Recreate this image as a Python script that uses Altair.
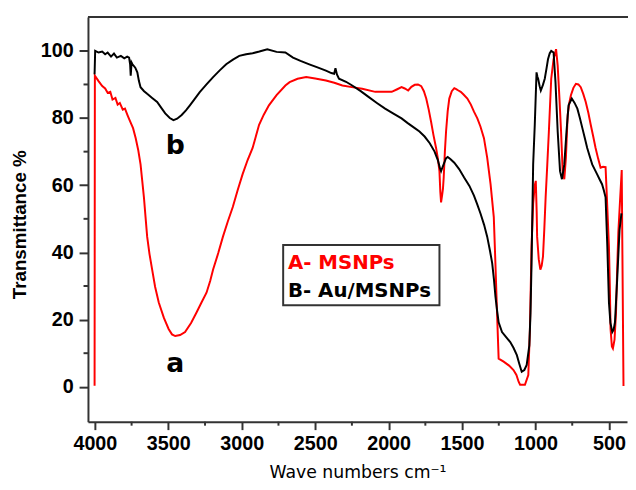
import altair as alt
import pandas as pd

# ---- spectrum A (MSNPs, red) ----
red_wn = [4002, 4000, 3975, 3950, 3930, 3913, 3895, 3880, 3860, 3845, 3830, 3810, 3795, 3778, 3760, 3740,
          3722, 3705, 3689, 3678, 3666, 3655, 3644, 3628, 3610, 3590, 3565, 3530, 3498, 3475, 3453, 3420,
          3386, 3345, 3308, 3275, 3240, 3215, 3195, 3160, 3128, 3095, 3061, 3028, 2994, 2960, 2926, 2882,
          2850, 2815, 2763, 2703, 2674, 2620, 2561, 2500, 2427, 2370, 2315, 2250, 2180, 2091, 2030, 1979,
          1945, 1912, 1890, 1867, 1845, 1822, 1800, 1778, 1760, 1744, 1727, 1711, 1695, 1677, 1665, 1654,
          1648, 1643, 1636, 1630, 1625, 1617, 1609, 1598, 1587, 1570, 1553, 1540, 1525, 1509, 1490, 1464,
          1440, 1419, 1396, 1375, 1351, 1329, 1306, 1284, 1273, 1262, 1251, 1217, 1180, 1150, 1130, 1115,
          1105, 1072, 1049, 1038, 1027, 1016, 1005, 998, 992, 989, 978, 967, 958, 949, 940, 931,
          920, 909, 893, 877, 860, 849, 837, 826, 815, 804, 793, 781, 770, 759, 742, 725,
          708, 692, 675, 658, 640, 624, 607, 591, 574, 557, 540, 523, 516, 508, 500, 494,
          489, 480, 473, 462, 452, 444, 436, 425, 413, 401]
red_t = [0.3, 92.6, 91.0, 89.5, 88.8, 87.5, 87.8, 85.5, 86.0, 84.0, 84.5, 82.5, 82.8, 80.9, 79.0, 77.0,
         74.0, 70.5, 66.2, 61.5, 56.4, 50.5, 44.7, 39.5, 34.9, 29.8, 25.1, 20.5, 17.2, 15.6, 15.1, 15.4,
         16.3, 19.0, 22.1, 25.0, 28.0, 31.5, 34.9, 39.8, 44.7, 49.2, 53.5, 58.5, 63.3, 67.5, 71.1, 78.0,
         81.0, 83.8, 86.8, 89.7, 90.7, 91.7, 92.2, 91.8, 91.2, 90.5, 89.7, 89.2, 88.7, 87.8, 87.8, 87.8,
         88.5, 89.2, 88.8, 88.2, 89.3, 89.9, 90.0, 89.5, 88.0, 85.8, 82.5, 78.9, 75.0, 71.1, 68.0, 64.2,
         58.0, 54.9, 57.0, 59.0, 62.3, 70.0, 76.0, 82.0, 85.8, 88.0, 88.9, 88.6, 88.2, 87.8, 87.0, 85.8,
         84.0, 81.9, 79.9, 77.5, 74.0, 68.2, 60.3, 50.5, 36.8, 22.1, 8.4, 7.5, 6.3, 5.0, 3.5, 1.5,
         0.6, 0.6, 3.5, 17.2, 41.7, 54.5, 60.0, 61.3, 52.0, 44.7, 38.0, 34.9, 36.0, 38.8, 47.0, 56.4,
         66.0, 76.0, 91.7, 97.5, 100.5, 95.6, 85.8, 76.0, 64.2, 61.8, 68.2, 80.9, 84.5, 86.8, 89.0, 90.2,
         90.0, 89.2, 87.2, 84.8, 81.5, 78.0, 74.5, 71.1, 68.0, 65.2, 65.5, 65.4, 58.4, 50.0, 41.7, 30.0,
         17.2, 12.0, 11.4, 14.0, 22.0, 35.0, 46.0, 55.0, 64.5, 0.2]

# ---- spectrum B (Au/MSNPs, black) ----
black_wn = [4002, 3998, 3975, 3950, 3930, 3913, 3890, 3870, 3850, 3823, 3800, 3780, 3767, 3760, 3756, 3750,
            3744, 3725, 3711, 3700, 3689, 3665, 3644, 3610, 3576, 3550, 3521, 3490, 3465, 3440, 3409, 3380,
            3353, 3320, 3286, 3240, 3195, 3150, 3106, 3060, 3017, 2970, 2926, 2880, 2826, 2763, 2703, 2651,
            2600, 2540, 2480, 2427, 2390, 2371, 2362, 2352, 2338, 2290, 2248, 2190, 2137, 2080, 2024, 1970,
            1912, 1870, 1822, 1790, 1755, 1720, 1688, 1665, 1650, 1643, 1632, 1621, 1610, 1598, 1580, 1553,
            1520, 1486, 1450, 1419, 1396, 1374, 1350, 1329, 1310, 1295, 1283, 1273, 1262, 1251, 1228, 1200,
            1172, 1150, 1127, 1110, 1094, 1076, 1060, 1042, 1034, 1027, 1016, 1005, 993, 987, 982, 972,
            964, 950, 937, 925, 915, 903, 893, 877, 864, 849, 833, 820, 804, 789, 775, 753,
            734, 715, 698, 681, 664, 648, 630, 614, 598, 581, 564, 547, 535, 523, 511, 500,
            490, 477, 468, 459, 444, 428, 415]
black_t = [93.0, 100.0, 99.5, 99.8, 99.0, 99.5, 98.3, 99.2, 98.0, 98.5, 97.8, 98.3, 98.0, 96.0, 92.6, 96.5,
           96.0, 95.0, 93.6, 91.0, 89.2, 88.0, 87.2, 86.0, 84.8, 83.2, 81.4, 80.0, 79.4, 79.8, 80.9, 82.3,
           83.8, 85.7, 87.7, 90.0, 92.2, 94.2, 96.0, 97.4, 98.5, 99.0, 99.3, 99.8, 100.5, 99.7, 99.5, 98.0,
           97.0, 96.0, 95.0, 94.1, 93.4, 93.2, 94.8, 93.0, 91.7, 90.8, 89.7, 88.0, 86.3, 84.5, 82.8, 81.4,
           79.9, 78.5, 77.0, 76.0, 74.5, 72.5, 70.1, 67.5, 65.0, 64.2, 65.5, 66.7, 68.0, 68.4, 67.8, 66.7,
           64.8, 62.3, 59.8, 56.9, 54.2, 51.5, 48.2, 44.7, 40.5, 36.8, 32.0, 27.0, 22.8, 19.2, 16.3, 14.8,
           13.3, 11.6, 9.4, 6.8, 4.5, 5.0, 6.5, 12.3, 22.0, 36.8, 66.2, 78.0, 93.6, 92.3, 91.7, 89.5,
           88.2, 89.8, 91.7, 94.8, 97.5, 99.3, 100.0, 99.5, 90.7, 76.0, 64.2, 61.8, 66.2, 76.0, 83.8, 85.8,
           84.5, 82.8, 80.0, 77.0, 74.0, 71.1, 68.5, 66.2, 64.8, 63.3, 61.8, 60.3, 58.5, 56.4, 41.7, 25.1,
           19.0, 16.3, 17.0, 19.2, 31.9, 46.6, 51.6]

# ---- annotations ----
peak_labels = ["a", "b"]
peak_wn = [3453, 3453]
peak_t = [4.5, 69.3]

legend_text = ["A- MSNPs", "B- Au/MSNPs"]
legend_color = ["#ff0000", "#000000"]
legend_wn = [2685, 2685]
legend_t = [35.1, 26.6]
legend_box_wn = [2718, 1654]
legend_box_t = [42.2, 24.3]

x_major = list(range(500, 4001, 500))
x_minor = list(range(750, 4000, 500))
y_major = list(range(0, 101, 20))
y_minor = list(range(10, 100, 20))

rows = []
i = 0
for w, t in zip(red_wn, red_t):
    rows.append({"series": "A", "wn": w, "t": t, "i": i}); i += 1
for w, t in zip(black_wn, black_t):
    rows.append({"series": "B", "wn": w, "t": t, "i": i}); i += 1
df = pd.DataFrame(rows)

xscale = alt.Scale(domain=[377, 4047], reverse=True, nice=False, zero=False)
yscale = alt.Scale(domain=[-10.4, 110.1], nice=False, zero=False)

x_axis = alt.Axis(
    values=x_major, format="d",
    tickSize=8, tickWidth=2, tickColor="#333333", domainColor="#333333", domainWidth=2,
    labelFont="Liberation Sans", labelFontWeight="bold", labelFontSize=20, labelColor="black",
    labelPadding=4, labelOverlap=False, labelFlush=False, grid=False,
    title="Wave numbers cm⁻¹", titleFont="DejaVu Sans", titleFontWeight="normal",
    titleFontSize=17.5, titleColor="black", titleY=57, titleBaseline="alphabetic",
)
y_axis = alt.Axis(
    values=y_major,
    tickSize=9, tickWidth=2, tickColor="#333333", domainColor="#333333", domainWidth=2,
    labelFont="Liberation Sans", labelFontWeight="bold", labelFontSize=20, labelColor="black",
    labelPadding=6, labelOverlap=False, labelFlush=False, grid=False,
    title="Transmittance %", titleFont="Liberation Sans", titleFontWeight="bold",
    titleFontSize=19, titleColor="black", titleAngle=270, titleX=-69, titleY=210,
    titleAlign="center", titleBaseline="middle",
)

lines = alt.Chart(df).mark_line(strokeWidth=2, clip=True).encode(
    x=alt.X("wn:Q", scale=xscale, axis=x_axis),
    y=alt.Y("t:Q", scale=yscale, axis=y_axis),
    color=alt.Color("series:N", scale=alt.Scale(domain=["A", "B"], range=["#ff0000", "#000000"]), legend=None),
    order=alt.Order("i:Q"),
)

peaks = alt.Chart(pd.DataFrame({"lab": peak_labels, "wn": peak_wn, "t": peak_t})).mark_text(
    font="DejaVu Sans", fontWeight="bold", fontSize=27, align="center", baseline="alphabetic", color="black"
).encode(x="wn:Q", y="t:Q", text="lab:N")

box = alt.Chart(pd.DataFrame({"wn": [legend_box_wn[0]], "wn2": [legend_box_wn[1]],
                              "t": [legend_box_t[0]], "t2": [legend_box_t[1]]})).mark_rect(
    fill="white", stroke="#333333", strokeWidth=2
).encode(x="wn:Q", x2="wn2:Q", y="t:Q", y2="t2:Q")

leg = alt.Chart(pd.DataFrame({"txt": legend_text, "col": legend_color, "wn": legend_wn, "t": legend_t})).mark_text(
    font="DejaVu Sans", fontWeight="bold", fontSize=20, align="left", baseline="alphabetic"
).encode(x="wn:Q", y="t:Q", text="txt:N", color=alt.Color("col:N", scale=None))

x_minor_ticks = alt.Chart(pd.DataFrame({"wn": x_minor})).mark_rule(color="#333333", strokeWidth=2).encode(
    x="wn:Q", y=alt.value(410), y2=alt.value(414)
)
y_minor_ticks = alt.Chart(pd.DataFrame({"t": y_minor})).mark_rule(color="#333333", strokeWidth=2).encode(
    y="t:Q", x=alt.value(0), x2=alt.value(-4.5)
)

top_line = alt.Chart(pd.DataFrame({"d": [0]})).mark_rule(color="#333333", strokeWidth=2).encode(
    x=alt.value(0), x2=alt.value(560), y=alt.value(0)
)

chart = alt.layer(lines, peaks, box, leg, x_minor_ticks, y_minor_ticks, top_line).properties(
    width=546, height=410,
    autosize=alt.AutoSizeParams(type="none"),
    padding={"left": 81, "top": 6, "right": 1, "bottom": 58},
    background="white",
).configure_view(stroke=None)

chart.save("out.html", embed_options={"renderer": "svg", "actions": False})
